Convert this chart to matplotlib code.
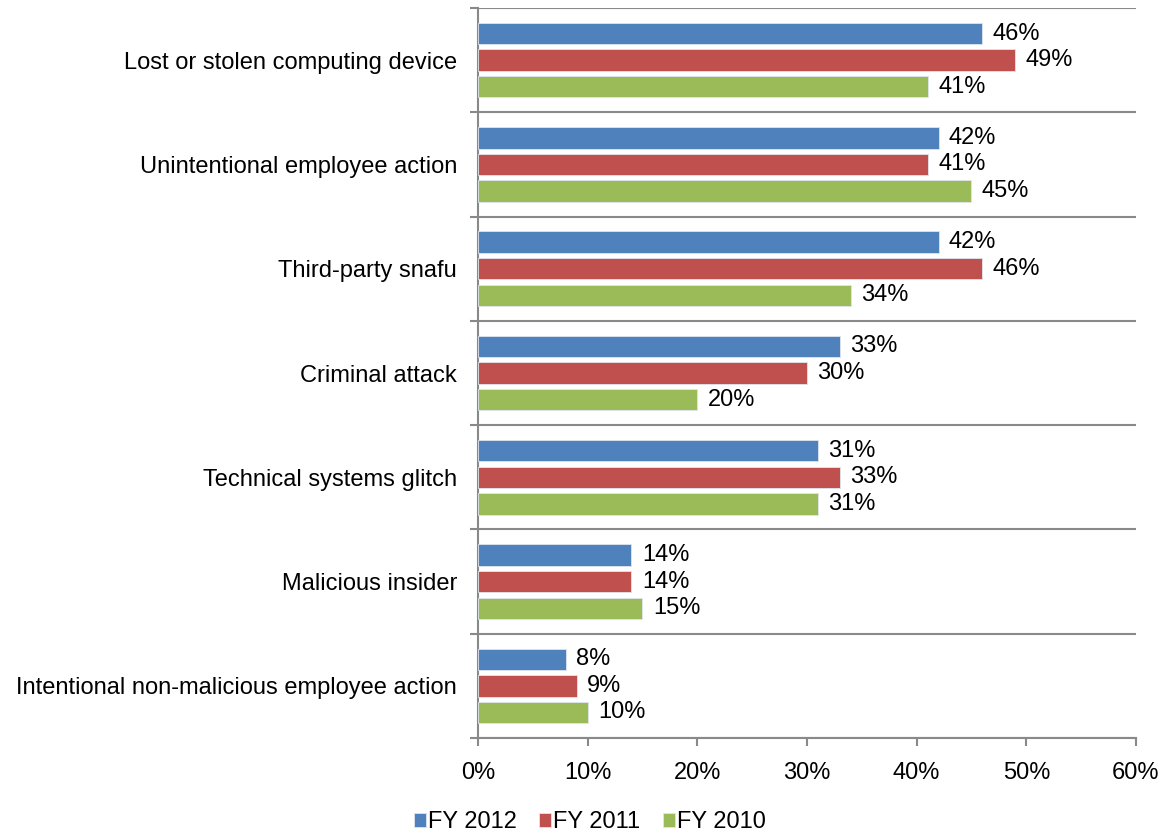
import matplotlib.pyplot as plt
import numpy as np

plt.rcParams['font.family'] = ['Liberation Sans', 'DejaVu Sans']
plt.rcParams['font.size'] = 17

causes = ['Lost or stolen computing device',
          'Unintentional employee action',
          'Third-party snafu',
          'Criminal attack',
          'Technical systems glitch',
          'Malicious insider',
          'Intentional non-malicious employee action']
fy2012 = [46, 42, 42, 33, 31, 14, 8]
fy2011 = [49, 41, 46, 30, 33, 14, 9]
fy2010 = [41, 45, 34, 20, 31, 15, 10]

series = [('FY 2012', fy2012, '#4F81BD'),
          ('FY 2011', fy2011, '#C0504D'),
          ('FY 2010', fy2010, '#9BBB59')]

grey = '#898989'
fig = plt.figure(figsize=(11.68, 8.33), dpi=100)
ax = fig.add_axes([0.4092, 0.114, 0.5634, 0.8764])

y = np.arange(len(causes))
step = 0.255
height = 0.205

for i, (name, vals, col) in enumerate(series):
    bars = ax.barh(y + (i - 1) * step, vals, height, color=col,
                   edgecolor='#dfe6ee', linewidth=0.6, label=name, zorder=3)
    for rect, v in zip(bars, vals):
        ax.annotate('%d%%' % v,
                    xy=(rect.get_width(), rect.get_y() + rect.get_height() / 2),
                    xytext=(7.5, 0), textcoords='offset points',
                    ha='left', va='center', fontsize=17)

ax.set_xlim(0, 60)
ax.set_ylim(len(causes) - 0.5, -0.5)

# category boundaries carry the ticks and gridlines, labels sit in between
ax.set_yticks(np.arange(-0.5, len(causes), 1.0))
ax.set_yticklabels([])
ax.set_yticks(y, minor=True)
ax.set_yticklabels(causes, minor=True)
ax.tick_params(axis='y', which='minor', length=0, pad=15, labelsize=17)
ax.tick_params(axis='y', which='major', length=6, color=grey, width=1.5)
ax.yaxis.grid(True, which='major', color=grey, linewidth=1.5, zorder=0)

ax.set_xticks(np.arange(0, 61, 10))
ax.set_xticklabels(['%d%%' % t for t in range(0, 61, 10)])
ax.tick_params(axis='x', length=6, color=grey, width=1.5, pad=11, labelsize=17)

for s in ['top', 'right']:
    ax.spines[s].set_visible(False)
for s in ['left', 'bottom']:
    ax.spines[s].set_color(grey)
    ax.spines[s].set_linewidth(1.5)

fig.legend(loc='lower center', bbox_to_anchor=(0.505, -0.026), ncol=3,
           frameon=False, fontsize=17, handlelength=0.5, handleheight=0.5,
           handletextpad=0.1, columnspacing=0.95)

fig.savefig('out.png', dpi=100)
